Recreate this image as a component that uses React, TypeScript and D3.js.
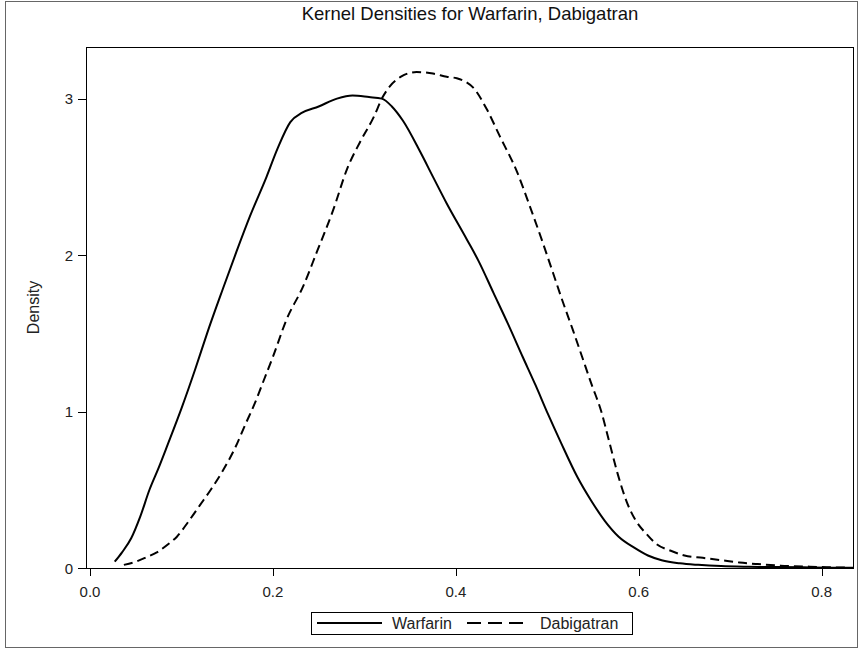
import React from "react";
import * as d3 from "d3";

const warfarinX = [0.027,0.035,0.045,0.055,0.065,0.075,0.085,0.100,0.115,0.128,0.145,0.160,0.175,0.193,0.205,0.219,0.232,0.250,0.270,0.287,0.305,0.319,0.330,0.342,0.361,0.375,0.390,0.412,0.425,0.441,0.457,0.473,0.487,0.501,0.515,0.533,0.548,0.563,0.578,0.595,0.610,0.625,0.645,0.665,0.690,0.720,0.750,0.780,0.810,0.835];
const warfarinY = [0.04,0.10,0.19,0.33,0.50,0.64,0.79,1.02,1.27,1.50,1.78,2.02,2.25,2.50,2.68,2.85,2.91,2.95,3.00,3.02,3.01,3.00,2.95,2.86,2.66,2.50,2.33,2.10,1.96,1.76,1.56,1.35,1.17,0.98,0.80,0.58,0.43,0.30,0.20,0.13,0.08,0.05,0.03,0.02,0.012,0.008,0.006,0.004,0.002,0.001];

const dabigatranX = [0.037,0.050,0.062,0.073,0.085,0.095,0.108,0.120,0.132,0.145,0.158,0.170,0.180,0.190,0.200,0.215,0.233,0.248,0.266,0.281,0.295,0.310,0.320,0.328,0.340,0.357,0.375,0.390,0.401,0.410,0.419,0.434,0.448,0.467,0.481,0.495,0.506,0.517,0.528,0.538,0.548,0.559,0.568,0.577,0.587,0.597,0.608,0.620,0.635,0.650,0.670,0.690,0.710,0.730,0.755,0.780,0.805,0.830];
const dabigatranY = [0.02,0.04,0.07,0.10,0.15,0.20,0.30,0.40,0.50,0.62,0.76,0.92,1.05,1.20,1.35,1.59,1.80,2.02,2.29,2.55,2.72,2.88,3.01,3.08,3.14,3.17,3.16,3.14,3.13,3.11,3.07,2.93,2.76,2.53,2.31,2.08,1.89,1.70,1.52,1.35,1.18,1.00,0.80,0.60,0.42,0.30,0.22,0.15,0.11,0.08,0.065,0.05,0.035,0.025,0.015,0.01,0.005,0.002];

const xTicks = [0, 0.2, 0.4, 0.6, 0.8];
const yTicks = [0, 1, 2, 3];
const title = "Kernel Densities for Warfarin, Dabigatran";
const yLabel = "Density";
const seriesNames = ["Warfarin", "Dabigatran"];

const W = 861, H = 650;
const L = 86, R = 854, T = 47, B = 568;
const FONT = "'Liberation Sans', Arial, sans-serif";

export default function App() {
  const x = d3.scaleLinear().domain([-0.0044, 0.8353]).range([L, R]);
  const y = d3.scaleLinear().domain([0, 3.33]).range([B, T]);
  const line = d3.line<[number, number]>().x(d => x(d[0])).y(d => y(d[1])).curve(d3.curveMonotoneX);
  const wPts = warfarinX.map((v, i) => [v, warfarinY[i]] as [number, number]);
  const dPts = dabigatranX.map((v, i) => [v, dabigatranY[i]] as [number, number]);
  const legY = 623;
  return (
    <svg width={W} height={H} style={{ position: "absolute", left: 0, top: 0, background: "#fff" }} fontFamily={FONT}>
      <rect x={5.5} y={1.5} width={852} height={646} fill="#fff" stroke="#666" strokeWidth={1} />
      <text x={(L + R) / 2} y={20} textAnchor="middle" fontSize={18.5} fill="#111">{title}</text>
      <defs>
        <clipPath id="pc"><rect x={L} y={T} width={R - L} height={B - T} /></clipPath>
      </defs>
      <g clipPath="url(#pc)">
        <path d={line(wPts) || ""} fill="none" stroke="#000" strokeWidth={2} />
        <path d={line(dPts) || ""} fill="none" stroke="#000" strokeWidth={2} strokeDasharray="9,5" />
      </g>
      <rect x={L + 0.5} y={T + 0.5} width={R - L - 1} height={B - T} fill="none" stroke="#000" strokeWidth={1} />
      {yTicks.map(t => (
        <g key={"y" + t}>
          <line x1={L - 8} x2={L} y1={Math.round(y(t)) + 0.5} y2={Math.round(y(t)) + 0.5} stroke="#000" />
          <text x={L - 13} y={y(t) + 5.5} textAnchor="end" fontSize={15} fill="#222">{String(t)}</text>
        </g>
      ))}
      {xTicks.map(t => (
        <g key={"x" + t}>
          <line x1={Math.round(x(t)) + 0.5} x2={Math.round(x(t)) + 0.5} y1={B} y2={B + 8} stroke="#000" />
          <text x={x(t)} y={B + 29} textAnchor="middle" fontSize={15} fill="#222">{d3.format(".1f")(t)}</text>
        </g>
      ))}
      <text transform={`translate(39,${(T + B) / 2}) rotate(-90)`} textAnchor="middle" fontSize={16} fill="#222">{yLabel}</text>
      <rect x={311.5} y={612.5} width={321} height={22} fill="#fff" stroke="#000" strokeWidth={1} />
      <line x1={317} x2={382} y1={legY} y2={legY} stroke="#000" strokeWidth={2} />
      <text x={392} y={legY + 6} fontSize={16} fill="#222">{seriesNames[0]}</text>
      <line x1={467} x2={524} y1={legY} y2={legY} stroke="#000" strokeWidth={2} strokeDasharray="14,7" />
      <text x={540} y={legY + 6} fontSize={16} fill="#222">{seriesNames[1]}</text>
    </svg>
  );
}
